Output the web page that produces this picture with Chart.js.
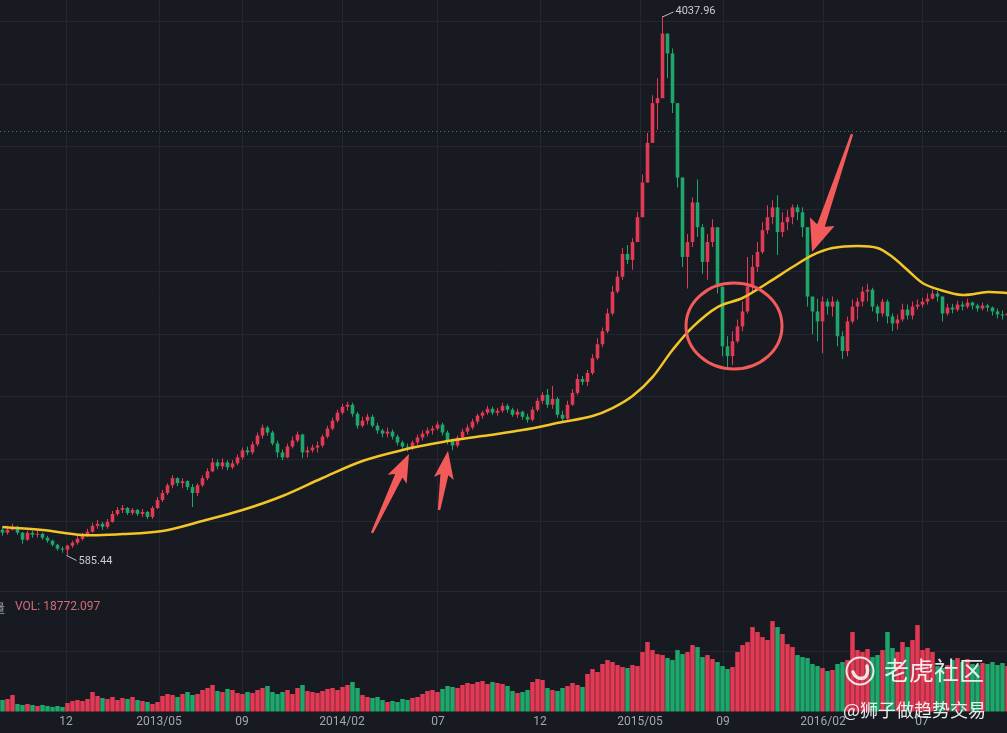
<!DOCTYPE html>
<html>
<head>
<meta charset="utf-8">
<script src="https://cdn.jsdelivr.net/npm/chart.js@4.4.0/dist/chart.umd.min.js"></script>
<style>
html,body{margin:0;padding:0;background:#171a21;overflow:hidden}
#wrap{position:relative;width:1007px;height:733px;background:#171a21;overflow:hidden}
#pricebox{position:absolute;left:0;top:0;width:1007px;height:591px}
#volbox{position:absolute;left:0;top:591px;width:1007px;height:142px}
.lbl{position:absolute;white-space:nowrap;font-family:Roboto,"Noto Sans",sans-serif}
#volIcon{left:-7px;top:599px;font-size:12px;color:#a0a5b0;font-family:"Noto Sans CJK SC",sans-serif}
#volText{left:15px;top:599px;font-size:12px;color:#d06d7a}
#wmBig{left:884px;top:653px;font-size:25px;line-height:32px;color:rgba(255,255,255,.88);font-family:"Noto Sans CJK SC",sans-serif}
#wmSmall{left:843px;top:697px;font-size:18px;line-height:24px;color:rgba(255,255,255,.9);font-family:"Noto Sans CJK SC",sans-serif}
#wmLogo{position:absolute;left:844px;top:655px}
</style>
</head>
<body>
<div id="wrap">
  <div id="pricebox"><canvas id="priceChart"></canvas></div>
  <div id="volbox"><canvas id="volChart"></canvas></div>
  <div class="lbl" id="volIcon">量</div>
  <div class="lbl" id="volText"></div>
  <svg id="wmLogo" width="32" height="32" viewBox="0 0 32 32">
    <circle cx="16" cy="16" r="13.5" fill="none" stroke="rgba(255,255,255,.85)" stroke-width="2"/>
    <path d="M9 17 Q12 25 20 23 Q25 20 23 11" fill="none" stroke="rgba(255,255,255,.85)" stroke-width="3.5" stroke-linecap="round"/>
  </svg>
  <div class="lbl" id="wmBig">老虎社区</div>
  <div class="lbl" id="wmSmall">@狮子做趋势交易</div>
</div>
<script>
// ChiNext index, one candle per week
const firstOpen = 750;
const closes = [
  731, 750, 769, 731, 686, 731, 718, 724, 699, 680,
  654, 629, 623, 648, 667, 692, 718, 737, 775, 788,
  769, 800, 851, 877, 889, 857, 877, 851, 864, 832,
  889, 940, 985, 1035, 1080, 1048, 1061, 1023, 985, 1035,
  1080, 1124, 1181, 1156, 1181, 1150, 1175, 1213, 1258, 1245,
  1296, 1353, 1404, 1372, 1302, 1245, 1213, 1283, 1321, 1359,
  1245, 1258, 1276, 1289, 1346, 1397, 1448, 1499, 1537, 1550,
  1492, 1416, 1448, 1473, 1416, 1385, 1365, 1378, 1346, 1308,
  1283, 1276, 1308, 1340, 1365, 1385, 1397, 1423, 1372, 1321,
  1289, 1340, 1378, 1404, 1442, 1480, 1499, 1524, 1499, 1512,
  1543, 1518, 1486, 1505, 1473, 1454, 1518, 1575, 1613, 1550,
  1588, 1486, 1461, 1550, 1626, 1715, 1696, 1753, 1848, 1937,
  2020, 2134, 2274, 2369, 2515, 2477, 2591, 2750, 2972, 3226,
  3480, 3512, 3925, 3798, 3480, 3004, 2496, 2591, 2845, 2686,
  2464, 2591, 2686, 2305, 1924, 1861, 1956, 2051, 2147, 2305,
  2432, 2528, 2667, 2750, 2813, 2655, 2718, 2750, 2813, 2782,
  2686, 2242, 2147, 2083, 2210, 2178, 2210, 1988, 1893, 2083,
  2178, 2210, 2274, 2286, 2178, 2134, 2210, 2115, 2070, 2096,
  2159, 2121, 2178, 2191, 2210, 2229, 2261, 2242, 2134, 2172,
  2159, 2191, 2178, 2204, 2185, 2166, 2185, 2172, 2147, 2128,
  2121, 2134
];
const highs = [
  769, 775, 788, 775, 737, 743, 743, 750, 731, 711,
  686, 661, 642, 654, 680, 711, 731, 756, 794, 813,
  800, 819, 870, 896, 908, 896, 889, 883, 883, 870,
  902, 959, 1004, 1048, 1099, 1086, 1080, 1067, 1042, 1048,
  1099, 1143, 1207, 1200, 1207, 1194, 1194, 1232, 1276, 1283,
  1315, 1372, 1423, 1416, 1385, 1321, 1264, 1302, 1346, 1378,
  1365, 1283, 1296, 1315, 1359, 1416, 1467, 1518, 1556, 1569,
  1562, 1505, 1473, 1492, 1486, 1435, 1397, 1404, 1391, 1359,
  1321, 1302, 1321, 1359, 1385, 1404, 1416, 1442, 1435, 1385,
  1334, 1353, 1397, 1423, 1461, 1492, 1512, 1543, 1537, 1531,
  1562, 1556, 1531, 1524, 1512, 1492, 1537, 1594, 1632, 1651,
  1670, 1600, 1512, 1575, 1651, 1746, 1734, 1772, 1873, 1975,
  2045, 2166, 2312, 2407, 2553, 2572, 2616, 2782, 3023, 3290,
  3531, 3639, 4037.96, 3906, 3830, 3480, 3004, 2642, 2877, 2991,
  2705, 2642, 2737, 2686, 2305, 1988, 2020, 2096, 2210, 2496,
  2508, 2591, 2718, 2826, 2858, 2890, 2782, 2794, 2832, 2832,
  2813, 2686, 2242, 2229, 2242, 2229, 2242, 2223, 2020, 2115,
  2223, 2235, 2305, 2324, 2299, 2191, 2229, 2223, 2134, 2128,
  2197, 2191, 2210, 2223, 2235, 2261, 2286, 2280, 2248, 2197,
  2197, 2216, 2210, 2229, 2210, 2197, 2204, 2197, 2178, 2166,
  2153, 2153
];
const lows = [
  711, 718, 743, 718, 661, 680, 699, 699, 686, 667,
  642, 616, 603, 585.44, 635, 654, 680, 705, 731, 756,
  750, 756, 794, 838, 857, 845, 845, 838, 832, 819,
  819, 883, 927, 972, 1016, 1029, 1016, 1004, 896, 966,
  1023, 1067, 1118, 1137, 1137, 1131, 1137, 1162, 1200, 1226,
  1232, 1283, 1334, 1353, 1289, 1213, 1194, 1207, 1270, 1308,
  1207, 1213, 1245, 1245, 1276, 1334, 1385, 1435, 1486, 1512,
  1473, 1397, 1404, 1423, 1404, 1365, 1340, 1340, 1327, 1289,
  1264, 1251, 1258, 1289, 1321, 1346, 1359, 1385, 1353, 1296,
  1258, 1276, 1327, 1359, 1391, 1423, 1461, 1486, 1486, 1480,
  1499, 1499, 1473, 1467, 1454, 1435, 1442, 1505, 1556, 1531,
  1524, 1467, 1442, 1454, 1543, 1613, 1677, 1670, 1740, 1835,
  1918, 2007, 2121, 2261, 2350, 2451, 2413, 2591, 2750, 2972,
  3226, 3309, 3512, 3639, 3417, 2940, 2432, 2293, 2559, 2623,
  2388, 2350, 2559, 2261, 1861, 1779, 1804, 1943, 2020, 2134,
  2274, 2401, 2515, 2642, 2705, 2508, 2623, 2667, 2705, 2731,
  2623, 2178, 2001, 1956, 1880, 2128, 2115, 1924, 1842, 1861,
  2070, 2096, 2178, 2210, 2147, 2083, 2115, 2070, 2020, 2032,
  2083, 2096, 2096, 2159, 2172, 2191, 2223, 2210, 2083, 2121,
  2134, 2147, 2153, 2166, 2159, 2147, 2153, 2147, 2121, 2102,
  2096, 2102
];
const volumes = [
  4896, 5304, 6936, 3264, 2856, 3264, 2856, 2448, 2856, 2448,
  2040, 2448, 2040, 3672, 4488, 4896, 4488, 5304, 8160, 6528,
  5712, 5304, 6120, 4896, 5712, 5304, 6120, 4896, 4488, 4080,
  3264, 4080, 6528, 7344, 6936, 6120, 7344, 8160, 6936, 7344,
  8976, 9792, 11016, 8568, 8160, 9384, 8976, 7752, 7344, 8160,
  7752, 8976, 9792, 10608, 8160, 7344, 8160, 8976, 7344, 9792,
  11016, 8568, 8160, 7752, 8568, 9384, 9792, 8976, 10200, 11016,
  12240, 9792, 6936, 6120, 5712, 6120, 4896, 4080, 4488, 4080,
  5304, 4896, 5712, 6120, 7344, 8568, 8976, 8160, 9384, 10608,
  10200, 9792, 11016, 11832, 11424, 12240, 12648, 11424, 12240, 11832,
  11424, 10608, 8568, 7752, 8160, 8976, 12240, 13464, 13056, 9792,
  8976, 8568, 9792, 10608, 11832, 11016, 10200, 15504, 17544, 16320,
  19584, 21216, 20400, 19176, 18360, 17952, 19176, 18768, 24480, 28560,
  25296, 23664, 23256, 22032, 21216, 25296, 23664, 24480, 27336, 26520,
  22440, 23256, 21624, 20400, 18768, 17544, 18360, 24480, 27336, 28560,
  34680, 32640, 30600, 29376, 37128, 34680, 31824, 27744, 26520, 23256,
  22440, 22032, 19584, 18768, 17952, 16728, 17136, 19584, 20400, 21216,
  32640, 25296, 24480, 25704, 22440, 23256, 25296, 32640, 26112, 24480,
  28560, 26520, 29376, 35496, 25296, 26112, 24480, 18768, 17952, 19176,
  21216, 22032, 20400, 21624, 19584, 19176, 19992, 19584, 20400, 19176,
  19992, 18772.097
];
// 250-day average, read at a few points along the yellow curve
const maIdx  = [0, 8, 16, 24, 32, 40, 48, 56, 64, 72, 80, 88, 96, 104, 112, 118, 122, 126, 130,
                134, 138, 143, 148, 153, 158, 162, 166, 171, 175, 178, 181, 184, 187, 192, 197, 201];
const maVals = [767, 748, 716, 722, 742, 806, 876, 966, 1081, 1190, 1260, 1311, 1350, 1388, 1439, 1478, 1529, 1606, 1727,
                1900, 2047, 2175, 2233, 2329, 2431, 2508, 2553, 2566, 2553, 2495, 2412, 2329, 2290, 2252, 2271, 2265];
const tickPos = [12.7, 31.3, 47.9, 67.9, 87.1, 107.5, 127.5, 144.1, 164.1, 183.9];
const tickLabels = ['12', '2013/05', '09', '2014/02', '07', '12', '2015/05', '09', '2016/02', '07'];
const lastPrice = 3300;

// annotations drawn on the screenshot (index / price coordinates)
const arrows = [
  {from: [73.9, 729], to: [81.3, 1235], head: 28, half: 10.5},
  {from: [87.3, 876], to: [89.1, 1255], head: 28, half: 10},
  {from: [169.9, 3282], to: [161.9, 2527], head: 32, half: 13}
];
const ring = {at: [146.3, 2054], rx: 48, ry: 43};

const UP = '#e23a55', DOWN = '#1fa66b', GRID = '#242731', RED = '#f35b5b';

const opens = closes.map((c, i) => i === 0 ? firstOpen : closes[i - 1]);
const colors = closes.map((c, i) => c >= opens[i] ? UP : DOWN);
const wicks = closes.map((c, i) => ({x: i, y: [Math.min(lows[i], opens[i], c), Math.max(highs[i], opens[i], c)]}));
const bodies = closes.map((c, i) => ({x: i, y: [opens[i], c]}));
const ma = maIdx.map((v, i) => ({x: v, y: maVals[i]}));
const vols = volumes.map((v, i) => ({x: i, y: v}));

document.getElementById('volText').textContent = 'VOL: ' + volumes[volumes.length - 1].toFixed(3);

const xAxis = (labels) => ({
  type: 'linear', min: -0.5, max: 200.9, offset: false,
  afterBuildTicks: s => { s.ticks = tickPos.map(v => ({value: v})); },
  grid: {color: GRID, drawTicks: false, offset: false},
  border: {display: false},
  ticks: {
    display: labels, autoSkip: false, maxRotation: 0, padding: 3, color: '#a2a7b1',
    font: {family: 'Roboto', size: 12}, callback: (v, i) => tickLabels[i]
  },
  afterFit: s => { s.height = labels ? 21 : 0; }
});

const arrowPath = (ctx, tx, ty, px, py, L, W) => {
  const dx = px - tx, dy = py - ty, len = Math.hypot(dx, dy);
  const ux = dx / len, uy = dy / len, nx = -uy, ny = ux;
  const bx = px - ux * L, by = py - uy * L;
  const nb = 4;
  ctx.beginPath();
  ctx.moveTo(tx + nx * 1.2, ty + ny * 1.2);
  ctx.lineTo(bx + ux * nb + nx * 4, by + uy * nb + ny * 4);
  ctx.lineTo(bx + nx * W, by + ny * W);
  ctx.lineTo(px, py);
  ctx.lineTo(bx - nx * W, by - ny * W);
  ctx.lineTo(bx + ux * nb - nx * 4, by + uy * nb - ny * 4);
  ctx.lineTo(tx - nx * 1.2, ty - ny * 1.2);
  ctx.closePath();
  ctx.fill();
};

const priceMarks = {
  id: 'priceMarks',
  beforeDatasetsDraw(chart) {
    const {ctx, chartArea, scales: {y}} = chart;
    const ly = Math.round(y.getPixelForValue(lastPrice)) + 0.5;
    ctx.save();
    ctx.strokeStyle = '#3e7a5c';
    ctx.lineWidth = 1;
    ctx.setLineDash([1, 3]);
    ctx.beginPath();
    ctx.moveTo(chartArea.left, ly);
    ctx.lineTo(chartArea.right, ly);
    ctx.stroke();
    ctx.restore();
  },
  afterDatasetsDraw(chart) {
    const {ctx, scales: {x, y}} = chart;
    ctx.save();
    // extreme labels
    const hi = highs.indexOf(Math.max(...highs));
    const lo = lows.indexOf(Math.min(...lows));
    ctx.strokeStyle = '#b9bdc6';
    ctx.fillStyle = '#c9ccd3';
    ctx.lineWidth = 1;
    ctx.font = '11px Roboto';
    ctx.textBaseline = 'middle';
    let hx = x.getPixelForValue(hi), hy = y.getPixelForValue(highs[hi]);
    ctx.beginPath(); ctx.moveTo(hx, hy + 1); ctx.lineTo(hx + 11, hy - 4); ctx.stroke();
    ctx.fillText(highs[hi].toFixed(2), hx + 13, hy - 5);
    let lx = x.getPixelForValue(lo), lyy = y.getPixelForValue(lows[lo]);
    ctx.beginPath(); ctx.moveTo(lx - 1, lyy); ctx.lineTo(lx + 9, lyy + 5); ctx.stroke();
    ctx.fillText(lows[lo].toFixed(2), lx + 11, lyy + 6);
    // hand-drawn arrows and ring
    ctx.fillStyle = RED;
    arrows.forEach(a => {
      arrowPath(ctx, x.getPixelForValue(a.from[0]), y.getPixelForValue(a.from[1]),
        x.getPixelForValue(a.to[0]), y.getPixelForValue(a.to[1]), a.head, a.half);
    });
    ctx.strokeStyle = RED;
    ctx.lineWidth = 3;
    ctx.beginPath();
    ctx.ellipse(x.getPixelForValue(ring.at[0]), y.getPixelForValue(ring.at[1]), ring.rx, ring.ry, 0, 0, Math.PI * 2);
    ctx.stroke();
    ctx.restore();
  }
};

new Chart(document.getElementById('priceChart'), {
  type: 'bar',
  data: {
    datasets: [
      {type: 'line', data: ma, borderColor: '#f4c526', borderWidth: 2.5, pointRadius: 0,
       tension: 0.35, order: 0},
      {data: bodies, backgroundColor: colors, grouped: false, maxBarThickness: 4, minBarLength: 1, order: 1},
      {data: wicks, backgroundColor: colors, grouped: false, maxBarThickness: 1, order: 2}
    ]
  },
  options: {
    responsive: true, maintainAspectRatio: false, animation: false,
    layout: {padding: 0},
    plugins: {legend: {display: false}, tooltip: {enabled: false}},
    scales: {
      x: xAxis(false),
      y: {
        min: 358, max: 4140, position: 'right',
        ticks: {display: false, stepSize: 400, includeBounds: false},
        grid: {color: c => c.tick && c.tick.value < 500 ? 'transparent' : GRID, drawTicks: false},
        border: {display: false},
        afterFit: s => { s.width = 0; }
      }
    }
  },
  plugins: [priceMarks]
});

const volMarks = {
  id: 'volMarks',
  beforeDraw(chart) {
    const {ctx, width} = chart;
    ctx.save();
    ctx.strokeStyle = '#2c303b';
    ctx.lineWidth = 1;
    ctx.beginPath(); ctx.moveTo(0, 0.5); ctx.lineTo(width, 0.5); ctx.stroke();
    ctx.restore();
  }
};

new Chart(document.getElementById('volChart'), {
  type: 'bar',
  data: {
    datasets: [{data: vols, backgroundColor: colors, barPercentage: 0.9, categoryPercentage: 1}]
  },
  options: {
    responsive: true, maintainAspectRatio: false, animation: false,
    layout: {padding: 0},
    plugins: {legend: {display: false}, tooltip: {enabled: false}},
    scales: {
      x: xAxis(true),
      y: {
        min: 0, max: 49400, position: 'right',
        ticks: {display: false, stepSize: 20000, includeBounds: false},
        grid: {color: c => c.tick && c.tick.value === 0 ? 'transparent' : GRID, drawTicks: false},
        border: {display: false},
        afterFit: s => { s.width = 0; }
      }
    }
  },
  plugins: [volMarks]
});
</script>
</body>
</html>
